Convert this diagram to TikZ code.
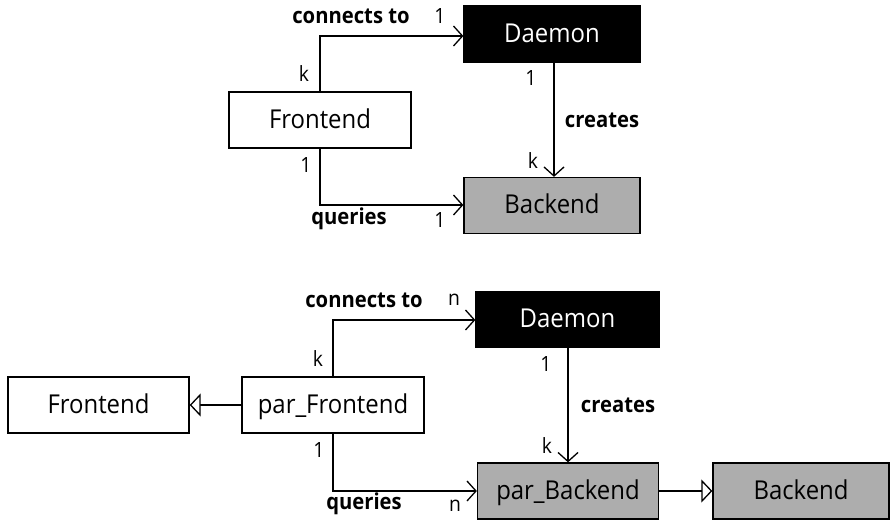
\documentclass[tikz,border=0pt]{standalone}
\usepackage{fontspec}
\setmainfont{Open Sans}[FakeStretch=0.92]
\usetikzlibrary{arrows.meta}
\begin{document}
\begin{tikzpicture}[x=1pt,y=-1pt,
  cls/.style={draw=black,line width=1.3pt,minimum height=56pt,inner sep=0pt,
    text height=16pt,text depth=0pt,font=\fontsize{26}{30}\selectfont},
  plain/.style={cls,fill=white},
  daemon/.style={cls,fill=black,text=white},
  backend/.style={cls,fill=black!32},
  assoc/.style={line width=1.3pt,-{Straight Barb[length=9pt,width=20pt,line width=1.3pt]}},
  inherit/.style={line width=1.3pt,-{Triangle[open,length=11pt,width=23pt,line width=1.3pt,fill=white]}},
  rel/.style={inner sep=0pt,font=\bfseries\fontsize{22}{26}\selectfont},
  mult/.style={inner sep=0pt,font=\fontsize{21}{25}\selectfont}]
\useasboundingbox (0,0) rectangle (890,519);

% ---- upper diagram
\node[daemon,minimum width=176pt] (d1) at (552,34) {Daemon};
\node[plain,minimum width=182pt] (f1) at (320,120) {Frontend};
\node[backend,minimum width=176pt] (b1) at (552,205.5) {Backend};

\draw[assoc] (f1.north -| 320,0) |- (d1.west |- 0,36);
\draw[assoc] (d1.south -| 554,0) -- (b1.north -| 554,0);
\draw[assoc] (f1.south -| 320,0) |- (b1.west |- 0,205);

\node[rel] (c1) at (351,16) {connects to};
\node[mult] (m1) at (440,16) {1};
\node[mult] (m2) at (304,74) {k};
\node[mult] (m3) at (531,78) {1};
\node[rel] (cr1) at (602,120) {creates};
\node[mult] (m4) at (533,161) {k};
\node[mult] (m5) at (306,165) {1};
\node[rel] (q1) at (349,219) {queries};
\node[mult] (m6) at (440,220) {1};

% ---- lower diagram
\node[daemon,minimum width=183pt] (d2) at (567.5,319.5) {Daemon};
\node[plain,minimum width=182pt] (pf) at (333,405) {par\_Frontend};
\node[plain,minimum width=181pt] (f2) at (98.5,405) {Frontend};
\node[backend,minimum width=181pt] (pb) at (568,491) {par\_Backend};
\node[backend,minimum width=176pt] (b2) at (801,491) {Backend};

\draw[inherit] (pf.west) -- (f2.east);
\draw[inherit] (pb.east) -- (b2.west);
\draw[assoc] (pf.north -| 333,0) |- (d2.west |- 0,320);
\draw[assoc] (d2.south -| 568,0) -- (pb.north -| 568,0);
\draw[assoc] (pf.south -| 333,0) |- (pb.west |- 0,491);

\node[rel] (c2) at (364,300) {connects to};
\node[mult] (n1) at (454,300) {n};
\node[mult] (n2) at (318,359) {k};
\node[mult] (n3) at (546,364) {1};
\node[rel] (cr2) at (618,405) {creates};
\node[mult] (n4) at (547,446) {k};
\node[mult] (n5) at (319,450) {1};
\node[rel] (q2) at (364,504) {queries};
\node[mult] (n6) at (455,506) {n};
\end{tikzpicture}
\end{document}
